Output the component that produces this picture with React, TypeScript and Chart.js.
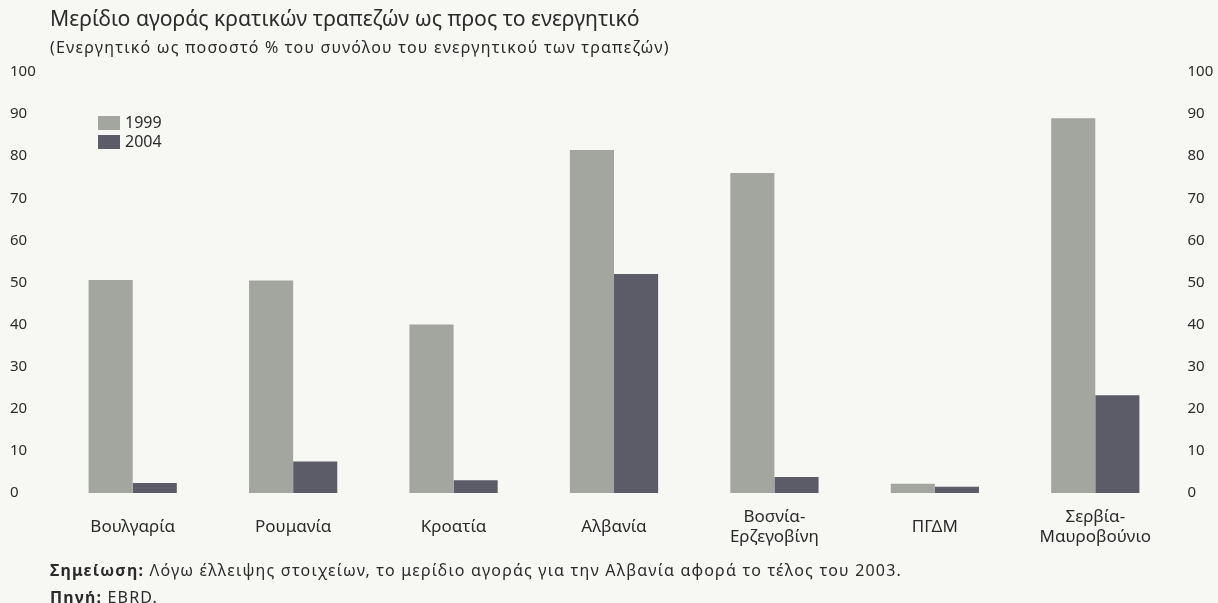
import React, { useEffect, useRef } from "react";
import { Chart, registerables } from "chart.js";

Chart.register(...registerables);

const categories: (string | string[])[] = [
  "Βουλγαρία",
  "Ρουμανία",
  "Κροατία",
  "Αλβανία",
  ["Βοσνία-", "Ερζεγοβίνη"],
  "ΠΓΔΜ",
  ["Σερβία-", "Μαυροβούνιο"],
];
const series1999 = [50.6, 50.5, 40, 81.5, 76, 2.2, 89];
const series2004 = [2.4, 7.5, 3, 52, 3.8, 1.5, 23.2];
const yTicks = [0, 10, 20, 30, 40, 50, 60, 70, 80, 90, 100];

const title = "Μερίδιο αγοράς κρατικών τραπεζών ως προς το ενεργητικό";
const subtitle = "(Ενεργητικό ως ποσοστό % του συνόλου του ενεργητικού των τραπεζών)";
const noteLabel = "Σημείωση:";
const noteText = " Λόγω έλλειψης στοιχείων, το μερίδιο αγοράς για την Αλβανία αφορά το τέλος του 2003.";
const sourceLabel = "Πηγή:";
const sourceText = " EBRD.";

const FONT = "'Noto Sans', 'Open Sans', sans-serif";
const TEXT = "#2b2b2b";
const C1999 = "#a3a59f";
const C2004 = "#5b5c67";

const legendPlugin = {
  id: "innerLegend",
  afterDraw(chart: any) {
    const ctx = chart.ctx;
    ctx.save();
    ctx.font = `16px ${FONT}`;
    ctx.textBaseline = "middle";
    ctx.textAlign = "left";
    chart.data.datasets.forEach((ds: any, i: number) => {
      const y = 123 + i * 19;
      ctx.fillStyle = ds.backgroundColor;
      ctx.fillRect(98, y - 7, 22, 14);
      ctx.fillStyle = TEXT;
      ctx.fillText(ds.label, 125, y);
    });
    ctx.restore();
  },
};

export default function App() {
  const ref = useRef<HTMLCanvasElement>(null);
  useEffect(() => {
    if (!ref.current) return;
    const tickFont = { family: FONT, size: 15 };
    const chart = new Chart(ref.current, {
      type: "bar",
      data: {
        labels: categories,
        datasets: [
          { label: "1999", data: series1999, backgroundColor: C1999, yAxisID: "y" },
          { label: "2004", data: series2004, backgroundColor: C2004, yAxisID: "y" },
        ],
      },
      options: {
        responsive: false,
        animation: false,
        layout: { padding: { left: 10, right: 0, top: 72, bottom: 40 } },
        datasets: { bar: { categoryPercentage: 0.55, barPercentage: 1.0 } },
        plugins: { legend: { display: false }, tooltip: { enabled: false } },
        scales: {
          x: {
            grid: { display: false, drawTicks: false },
            border: { display: false },
            ticks: {
              font: { family: FONT, size: 17, lineHeight: 1.2 },
              color: TEXT,
              padding: 24,
              maxRotation: 0,
              autoSkip: false,
              crossAlign: "center",
            },
            afterFit(s: any) {
              s.height = 70;
            },
          },
          y: {
            position: "left",
            min: 0,
            max: 100,
            grid: { display: false, drawTicks: false },
            border: { display: false },
            afterBuildTicks(s: any) {
              s.ticks = yTicks.map((v) => ({ value: v }));
            },
            ticks: { font: tickFont, color: TEXT, padding: 0, crossAlign: "far" },
            afterFit(s: any) {
              s.width = 42.5;
            },
          },
          y2: {
            position: "right",
            min: 0,
            max: 100,
            grid: { display: false, drawTicks: false },
            border: { display: false },
            afterBuildTicks(s: any) {
              s.ticks = yTicks.map((v) => ({ value: v }));
            },
            ticks: { font: tickFont, color: TEXT, padding: 12, crossAlign: "near" },
            afterFit(s: any) {
              s.width = 42.5;
            },
          },
        },
      },
      plugins: [legendPlugin],
    } as any);
    return () => chart.destroy();
  }, []);

  return (
    <div
      style={{
        position: "fixed",
        left: 0,
        top: 0,
        width: 1218,
        height: 603,
        background: "#f7f7f4",
        overflow: "hidden",
        fontFamily: FONT,
        color: TEXT,
      }}
    >
      <canvas ref={ref} width={1218} height={603} style={{ position: "absolute", left: 0, top: 0 }} />
      <div style={{ position: "absolute", left: 50, top: 4, fontSize: 21.2, lineHeight: "28px", whiteSpace: "nowrap" }}>
        {title}
      </div>
      <div
        style={{
          position: "absolute",
          left: 50,
          top: 37,
          fontSize: 16,
          letterSpacing: "1.2px",
          lineHeight: "20px",
          whiteSpace: "nowrap",
        }}
      >
        {subtitle}
      </div>
      <div
        style={{
          position: "absolute",
          left: 50,
          top: 559,
          fontSize: 16,
          letterSpacing: "1.2px",
          lineHeight: "22px",
          whiteSpace: "nowrap",
        }}
      >
        <b>{noteLabel}</b>
        {noteText}
      </div>
      <div
        style={{
          position: "absolute",
          left: 50,
          top: 586,
          fontSize: 16,
          letterSpacing: "1.2px",
          lineHeight: "22px",
          whiteSpace: "nowrap",
        }}
      >
        <b>{sourceLabel}</b>
        {sourceText}
      </div>
    </div>
  );
}
